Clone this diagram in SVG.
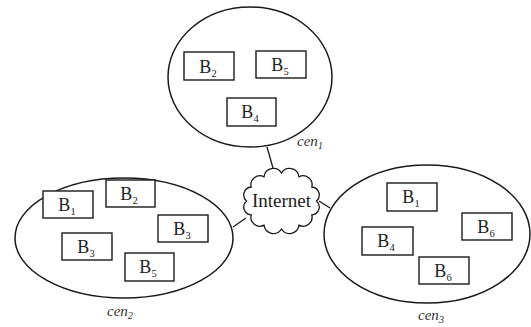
<svg xmlns="http://www.w3.org/2000/svg" width="531" height="327" viewBox="0 0 531 327">
<style>
.ell{fill:none;stroke:#1a1a1a;stroke-width:1.5}
.box{fill:#fff;stroke:#1a1a1a;stroke-width:1.4}
.bt{font-family:"Liberation Serif","Times New Roman",serif;font-size:18px;fill:#222;text-anchor:middle}
.sub{font-size:10.5px}
.lab{font-family:"Liberation Serif","Times New Roman",serif;font-size:15px;font-style:italic;fill:#333}
.conn{stroke:#1a1a1a;stroke-width:1.3;fill:none}
</style>
<rect width="531" height="327" fill="#fff"/>
<g id="connectors">
<line class="conn" x1="267" y1="147" x2="273" y2="168"/>
<line class="conn" x1="233" y1="227" x2="246" y2="218"/>
<line class="conn" x1="319" y1="201" x2="330" y2="208"/>
</g>
<g id="cen1">
<ellipse class="ell" cx="250" cy="77" rx="82" ry="70"/>
<rect class="box" x="184" y="52" width="50" height="28"/><text class="bt" x="208" y="73">B<tspan class="sub" dy="4">2</tspan></text>
<rect class="box" x="256" y="51" width="50" height="27"/><text class="bt" x="280" y="71">B<tspan class="sub" dy="4">5</tspan></text>
<rect class="box" x="227" y="98" width="49" height="28"/><text class="bt" x="250" y="118">B<tspan class="sub" dy="4">4</tspan></text>
<text class="lab" x="297" y="146">cen<tspan class="sub" dy="3">1</tspan></text>
</g>
<g id="cen2">
<ellipse class="ell" cx="124" cy="238" rx="109" ry="60"/>
<rect class="box" x="43" y="191" width="50" height="27"/><text class="bt" x="67" y="211">B<tspan class="sub" dy="4">1</tspan></text>
<rect class="box" x="106" y="180" width="49" height="27"/><text class="bt" x="129" y="200">B<tspan class="sub" dy="4">2</tspan></text>
<rect class="box" x="158" y="215" width="50" height="27"/><text class="bt" x="182" y="235">B<tspan class="sub" dy="4">3</tspan></text>
<rect class="box" x="62" y="233" width="50" height="27"/><text class="bt" x="86" y="253">B<tspan class="sub" dy="4">3</tspan></text>
<rect class="box" x="125" y="253" width="49" height="28"/><text class="bt" x="148" y="273">B<tspan class="sub" dy="4">5</tspan></text>
<text class="lab" x="107" y="316">cen<tspan class="sub" dy="3">2</tspan></text>
</g>
<g id="cen3">
<ellipse class="ell" cx="427" cy="234" rx="103" ry="69"/>
<rect class="box" x="387" y="183" width="50" height="28"/><text class="bt" x="411" y="203">B<tspan class="sub" dy="4">1</tspan></text>
<rect class="box" x="462" y="213" width="50" height="27"/><text class="bt" x="486" y="233">B<tspan class="sub" dy="4">6</tspan></text>
<rect class="box" x="362" y="227" width="51" height="28"/><text class="bt" x="386" y="247">B<tspan class="sub" dy="4">4</tspan></text>
<rect class="box" x="419" y="257" width="50" height="27"/><text class="bt" x="443" y="277">B<tspan class="sub" dy="4">6</tspan></text>
<text class="lab" x="418" y="320">cen<tspan class="sub" dy="3">3</tspan></text>
</g>
<g id="internet">
<path class="conn" fill="#fff" d="M316.5,201 A8,8 0 0,1 311.8,215 A9,9 0 0,1 299,225.2 A9.5,9.5 0 0,1 281.5,229 A9.5,9.5 0 0,1 264,225.2 A9,9 0 0,1 251.2,215 A8,8 0 0,1 246.5,201 A8,8 0 0,1 251.2,187 A9,9 0 0,1 264,176.8 A9.5,9.5 0 0,1 281.5,173 A9.5,9.5 0 0,1 299,176.8 A9,9 0 0,1 311.8,187 A8,8 0 0,1 316.5,201 Z"/>
<text class="bt" x="281.5" y="207" style="font-size:19px">Internet</text>
</g>
</svg>
